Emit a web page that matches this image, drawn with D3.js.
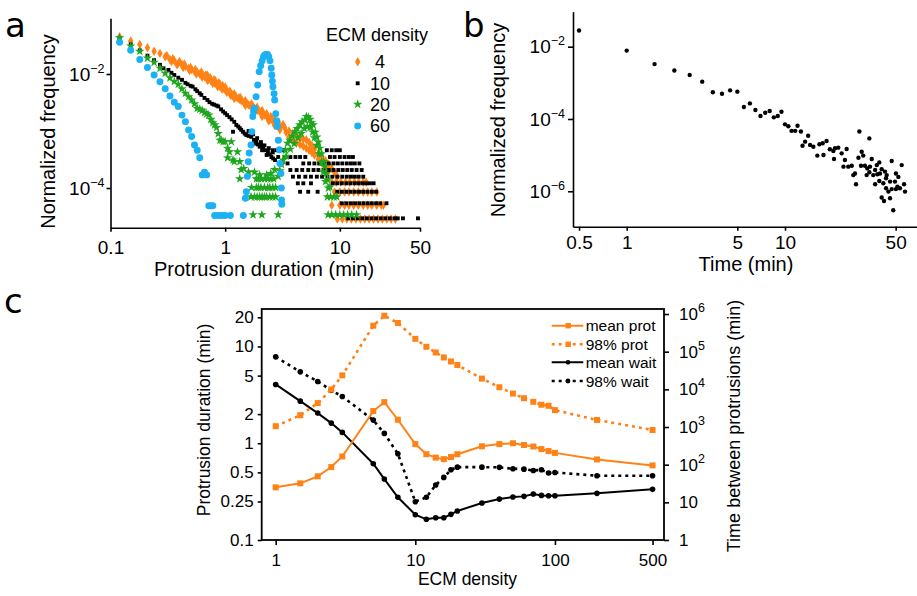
<!DOCTYPE html>
<html>
<head>
<meta charset="utf-8">
<script src="https://cdn.jsdelivr.net/npm/d3@7"></script>
<style>
  body { margin: 0; background: #fff; }
  svg { display: block; font-family: "Liberation Sans", Arial, sans-serif; }
  .axis path, .axis line { stroke: #000; stroke-width: 1.6; }
  .axis text { fill: #000; }
  .panel-letter { font-family: "DejaVu Sans", sans-serif; font-size: 34px; }
</style>
</head>
<body>
<script>
// ---- panel a: protrusion duration histograms, one per ECM density ----
const durationTicks = [0.1, 1, 10, 50];
const freqTicksA = [1e-4, 1e-2];
const densityLabels = [" 4", "10", "20", "60"];

const series4 = [
  [0.12,4.5e-2],[0.15,3.8e-2],[0.18,3.3e-2],[0.21,2.9e-2],[0.24,2.5e-2],[0.27,2.3e-2],[0.30,2.0e-2],
  [0.33,1.8e-2],[0.36,1.7e-2],[0.39,1.55e-2],[0.42,1.45e-2],[0.45,1.35e-2],[0.48,1.25e-2],[0.51,1.2e-2],
  [0.54,1.12e-2],[0.57,1.08e-2],[0.60,1.0e-2],[0.63,9.6e-3],[0.66,9.0e-3],[0.69,8.6e-3],[0.72,8.0e-3],
  [0.75,7.7e-3],[0.78,7.3e-3],[0.81,7.0e-3],[0.84,6.6e-3],[0.87,6.4e-3],[0.90,6.1e-3],[0.93,5.9e-3],
  [0.96,5.6e-3],[1.0,5.3e-3],[1.05,5.0e-3],[1.1,4.6e-3],[1.15,4.3e-3],[1.2,4.1e-3],[1.25,3.9e-3],
  [1.3,3.7e-3],[1.35,3.5e-3],[1.4,3.4e-3],[1.45,3.2e-3],[1.5,3.1e-3],[1.55,3.0e-3],[1.6,2.9e-3],
  [1.65,2.8e-3],[1.7,2.7e-3],[1.75,2.6e-3],[1.8,2.5e-3],[1.9,2.3e-3],[2.0,2.2e-3],[2.1,2.0e-3],
  [2.2,1.9e-3],[2.3,1.8e-3],[2.4,1.7e-3],[2.5,1.6e-3],[2.6,1.5e-3],[2.7,1.4e-3],[2.8,1.3e-3],
  [2.9,1.25e-3],[3.0,1.2e-3],
  [0.31,2.1e-2],[0.35,1.85e-2],[0.4,1.65e-2],[0.44,1.5e-2],[0.5,1.3e-2],[0.55,1.2e-2],[0.62,1.08e-2],
  [0.68,9.6e-3],[0.74,8.6e-3],[0.82,7.6e-3],[0.88,7.0e-3],[0.95,6.3e-3],
  [0.34,1.65e-2],[0.38,1.45e-2],[0.43,1.3e-2],[0.49,1.15e-2],[0.56,1.0e-2],[0.63,8.8e-3],[0.7,7.8e-3],
  [0.78,6.8e-3],[0.86,6.0e-3],[0.94,5.4e-3],[1.03,4.8e-3],[1.12,4.2e-3],
  [0.7,9.5e-3],[0.8,7.9e-3],[0.9,6.6e-3],[1.0,5.9e-3],[1.1,5.0e-3],[1.2,4.5e-3],[1.35,3.9e-3],
  [1.5,3.4e-3],[1.7,3.0e-3],[1.9,2.6e-3],[2.1,2.3e-3],[2.3,2.0e-3],[2.5,1.8e-3],[2.7,1.6e-3],
  [2.9,1.45e-3],[1.2,3.7e-3],[1.5,2.8e-3],[1.8,2.2e-3],[2.1,1.8e-3],[2.4,1.5e-3],[2.7,1.25e-3],
  [3.0,1.05e-3],[3.2,1.3e-3],[3.3,1.15e-3],[3.4,9.5e-4],[3.6,1.0e-3],[3.6,7.8e-4],[3.9,9.0e-4],
  [3.9,6.8e-4],[4.2,8.2e-4],[4.2,6.2e-4],[4.5,7.5e-4],[4.5,5.8e-4],[4.8,7.2e-4],[4.8,5.4e-4],
  [5.1,7.0e-4],[5.1,5.0e-4],[5.4,6.3e-4],[5.4,4.6e-4],[5.7,5.5e-4],[5.7,4.2e-4],[6.0,4.8e-4],
  [6.0,3.8e-4],[6.5,4.0e-4],[6.5,3.2e-4],[7.0,3.5e-4],[7.0,2.7e-4],[7.5,3.0e-4],[7.5,2.3e-4],
  [8.0,2.6e-4],[8.0,2.0e-4],[8.5,2.2e-4],[9.0,1.9e-4],[9.5,1.6e-4]
];
// quantized low-count rows: [frequency, durations]
const rows4 = [
  [1.26e-4, [8.5, 9.3, 10.2, 11.2, 12.2, 13.4, 14.6, 16, 17]],
  [8.5e-5, [9, 10, 11, 12, 13.2, 14.5, 16, 17.5, 19, 21]],
  [5.0e-5, [8.5, 10, 11, 12, 13.2, 14.5, 16, 17.5, 19, 21, 23, 24]],
  [2.86e-5, [9.5, 10.5, 11.5, 12.6, 13.8, 15.1, 16.5, 18, 19.7, 21.5, 23.5, 25.7, 28, 30.5]]
];

const series10 = [
  [0.12,4.2e-2],[0.15,3.3e-2],[0.18,2.6e-2],[0.21,2.1e-2],[0.24,1.75e-2],[0.27,1.45e-2],[0.29,1.26e-2],
  [0.32,1.18e-2],[0.34,1.05e-2],[0.36,9.6e-3],[0.39,8.6e-3],[0.42,7.9e-3],[0.45,7.0e-3],[0.47,6.6e-3],
  [0.5,6.2e-3],[0.52,6.0e-3],[0.55,5.4e-3],[0.57,5.0e-3],[0.6,4.6e-3],[0.62,4.3e-3],[0.66,3.8e-3],
  [0.7,3.5e-3],[0.73,3.2e-3],[0.77,3.0e-3],[0.8,2.9e-3],[0.84,2.8e-3],[0.87,2.7e-3],[0.92,2.4e-3],
  [0.96,2.2e-3],[1.0,2.05e-3],[1.04,1.9e-3],[1.09,1.75e-3],[1.14,1.6e-3],[1.17,9.7e-4],[1.2,1.45e-3],
  [1.25,1.28e-3],[1.3,1.2e-3],[1.34,1.12e-3],[1.38,1.05e-3],[1.43,9.7e-4],[1.48,9.0e-4],[1.53,8.5e-4],
  [1.6,8.2e-4],[1.69,7.9e-4],[1.78,7.0e-4],[1.87,6.5e-4],[1.93,5.8e-4],[2.0,5.3e-4],[2.07,5.6e-4],
  [2.14,5.0e-4],[2.25,4.6e-4],[2.36,4.3e-4],[2.45,3.9e-4],[2.53,3.5e-4],[2.62,3.3e-4],[2.72,3.1e-4],
  [1.6,1.0e-3],[1.75,8.8e-4],[1.9,7.5e-4],[2.05,6.4e-4],[2.2,5.6e-4],[2.4,5.0e-4],[2.6,4.2e-4],
  [1.8,6.0e-4],[2.1,4.6e-4],[2.3,3.8e-4]
];
const rows10 = [
  [4.6e-4, [2.6, 2.8, 3.0, 3.2, 7.7, 8.5, 9.3, 10.0]],
  [3.5e-4, [2.9, 3.3, 3.7, 4.1, 4.5, 5.0, 8.2, 9.0, 10, 11, 12, 13]],
  [2.7e-4, [3.1, 3.5, 4.8, 5.4, 6.0, 6.6, 7.3, 8.0, 8.8, 9.6, 10.5, 11.5, 12.5, 13.5, 14.8]],
  [2.07e-4, [3.7, 4.2, 4.7, 5.3, 5.9, 6.5, 7.2, 8.0, 8.8, 9.7, 10.6, 11.6, 12.7, 14, 15.5]],
  [1.58e-4, [3.9, 4.4, 5.0, 5.6, 6.3, 7.0, 7.8, 8.6, 9.5, 10.5, 11.5, 12.5, 13.5, 14.6, 16]],
  [1.21e-4, [4.3, 4.8, 5.6, 8.7, 9.5, 10.4, 11.4, 12.4, 13.5, 14.6, 15.8, 17, 18.3, 19.7]],
  [8.6e-5, [4.5, 5.3, 6.4, 9.5, 10.4, 11.4, 12.4, 13.5, 14.7, 16, 17.4, 19, 20.7]],
  [5.4e-5, [10.4, 11.4, 12.5, 13.6, 14.8, 16.1, 17.5, 19, 20.7, 22.5, 25.5]],
  [2.94e-5, [11.8, 13, 14.3, 15.7, 17.2, 18.9, 20.7, 22.7, 24.9, 27.3, 30, 32, 35.5, 48]]
];

const series20 = [
  [0.12,4.3e-2],[0.15,3.1e-2],[0.18,2.5e-2],[0.21,1.9e-2],[0.24,1.6e-2],[0.27,1.26e-2],[0.30,1.03e-2],
  [0.33,8.6e-3],[0.36,7.4e-3],[0.39,6.6e-3],[0.42,5.5e-3],[0.45,4.6e-3],[0.48,4.0e-3],[0.51,3.5e-3],
  [0.54,3.0e-3],[0.57,2.5e-3],[0.60,2.4e-3],[0.63,2.3e-3],[0.66,2.1e-3],[0.69,2.0e-3],[0.72,1.9e-3],
  [0.75,1.6e-3],[0.78,1.4e-3],[0.81,1.28e-3],[0.84,1.15e-3],[0.87,9.0e-4],[0.90,6.9e-4],[0.93,6.9e-4],
  [0.96,6.5e-4],[1.0,6.5e-4],[1.05,5.0e-4],[1.09,4.3e-4],[1.13,6.5e-4],[1.17,3.1e-4],[1.05,3.4e-4],
  [1.2,2.9e-4],[1.28,4.3e-4],[1.34,2.9e-4],[1.38,2.1e-4],[1.34,1.45e-4],[1.45,2.2e-4],[1.6,1.9e-4],
  [1.8,1.9e-4],[2.0,1.7e-4],[2.3,1.7e-4],[2.5,1.8e-4],[2.7,2.1e-4],
  [2.9,1.6e-4],[3.0,2.0e-4],[3.1,2.6e-4],[3.2,3.1e-4],[3.35,4.6e-4],[3.5,6.1e-4],[3.66,6.9e-4],
  [3.85,8.2e-4],[4.05,9.7e-4],[4.25,1.1e-3],[4.48,1.28e-3],[4.7,1.45e-3],[4.96,1.56e-3],[5.1,1.8e-3],
  [5.3,1.75e-3],[5.5,1.6e-3],[5.65,1.4e-3],[5.86,1.28e-3],[6.1,9.5e-4],[6.3,7.8e-4],[6.5,6.4e-4],
  [6.7,5.0e-4],[6.9,4.0e-4],[7.2,2.9e-4],[7.4,2.4e-4],[7.6,1.8e-4],[7.8,1.4e-4],[7.95,1.0e-4],
  [8.2,1.04e-4],
  [3.4,3.6e-4],[3.7,4.8e-4],[4.0,6.0e-4],[4.3,7.6e-4],[4.6,9.0e-4],[4.9,1.1e-3],[5.2,1.2e-3],
  [5.5,1.15e-3],[5.8,9.6e-4],[6.0,7.6e-4],[6.3,5.6e-4],[6.6,4.0e-4],[6.9,2.8e-4],[7.2,1.9e-4],
  [7.5,1.3e-4]
];
const rows20 = [
  [1.45e-4, [1.87, 1.95, 2.07, 2.2, 2.36, 2.5, 2.65]],
  [1.02e-4, [1.7, 1.87, 1.95, 2.05, 2.2, 2.35, 2.45, 2.6, 2.75]],
  [7.0e-5, [1.68, 1.8, 1.9, 2.0, 2.1, 2.2, 2.3, 2.45, 2.6, 2.75, 7.8, 8.3, 8.9, 9.4]],
  [3.4e-5, [1.75, 2.09, 2.9, 7.9, 8.5, 9.2, 10, 10.8, 11.7, 12.7, 14]]
];

const series60 = [
  [0.12,3.6e-2],[0.15,2.6e-2],[0.18,1.8e-2],[0.21,1.3e-2],[0.24,9.6e-3],[0.27,7.3e-3],[0.30,5.5e-3],
  [0.33,4.1e-3],[0.36,3.2e-3],[0.39,2.7e-3],[0.42,1.9e-3],[0.45,1.46e-3],[0.48,1.04e-3],[0.51,8.0e-4],
  [0.54,5.7e-4],[0.57,4.6e-4],[0.60,3.4e-4],[0.63,1.7e-4],[0.66,1.9e-4],[0.69,1.7e-4],[0.72,4.9e-5],
  [0.75,4.9e-5],[0.78,4.9e-5],[0.81,3.3e-5],[0.87,3.3e-5],[0.93,3.3e-5],[1.0,3.3e-5],[1.11,3.3e-5],
  [1.44,3.3e-5],[1.5,6.6e-5],[1.53,8.6e-5],[1.56,1.6e-4],[1.59,2.9e-4],[1.62,4.1e-4],[1.68,5.7e-4],
  [1.71,9.7e-4],[1.74,1.8e-3],[1.77,2.2e-3],[1.8,2.5e-3],[1.86,4.0e-3],[1.92,6.4e-3],[1.98,1.1e-2],
  [2.04,1.4e-2],[2.1,1.7e-2],[2.16,2.0e-2],[2.22,2.15e-2],[2.28,2.2e-2],[2.34,2.2e-2],[2.4,2.0e-2],
  [2.46,1.7e-2],[2.52,1.26e-2],[2.55,9.6e-3],[2.58,7.5e-3],[2.61,6.0e-3],[2.67,4.5e-3],[2.7,3.5e-3],
  [2.76,2.0e-3],[2.82,1.5e-3],[2.85,1.2e-3],[2.91,6.9e-4],[2.97,4.7e-4],[3.0,2.7e-4],[3.06,1.8e-4],
  [3.09,1.0e-4],[3.1,6.2e-5],[3.12,5.2e-5]
];

// ---- panel b: waiting time distribution ----
const timeTicks = [0.5, 1, 5, 10, 50];
const freqTicksB = [1e-6, 1e-4, 1e-2];
const waitTimes = [
  [0.5,2.8e-2],[1,7.8e-3],[1.5,3.3e-3],[2,2.2e-3],[2.5,1.65e-3],[3,1.08e-3],[3.5,5.5e-4],[4,5.0e-4],
  [4.5,6.2e-4],[5,5.7e-4],[5.5,2.15e-4],[6,2.7e-4],[6.5,1.77e-4],[7,1.21e-4],[7.5,1.49e-4],[8,1.66e-4],
  [8.5,1.11e-4],[9,1.21e-4],[9.5,1.59e-4],[10,7.1e-5],[10.5,6.3e-5],[11,4.7e-5],[11.6,4.7e-5],
  [12,6.5e-5],[12.6,4.5e-5],[13.4,2.36e-5],[12.9,1.82e-5],[14,3.45e-5],[14.4,1.91e-5],[15.1,1.71e-5],
  [16.5,2.0e-5],[17.3,2.13e-5],[18.3,2.46e-5],[16,9.7e-6],[17.5,1.01e-5],[19.2,1.45e-5],[20.2,1.3e-5],
  [20.7,1.55e-5],[21.7,1.61e-5],[20.4,7.8e-6],[22.8,1.12e-5],[24.5,1.48e-5],[23.9,7.3e-6],[23.4,4.8e-6],
  [25.1,4.8e-6],[26.4,5.1e-6],[29.5,4.5e-5],[34.1,2.9e-5],[30.5,1.24e-5],[29.1,8.5e-6],[31.2,9.7e-6],
  [27,2.8e-6],[27.7,3.1e-6],[28.1,1.56e-6],[30.2,5.1e-6],[32,5.1e-6],[33.1,4.3e-6],[34.4,4.8e-6],
  [35.3,7.8e-6],[32.8,2.8e-6],[34.1,3.35e-6],[36.1,2.8e-6],[37.1,3.9e-6],[38,5.3e-6],[39.4,6.3e-6],
  [38.3,2.95e-6],[39.8,3.1e-6],[37.1,1.56e-6],[39.4,1.93e-6],[40.8,4.1e-6],[42.8,3.5e-6],[43.9,2.8e-6],
  [47.2,6.9e-6],[43.5,2.3e-6],[46.1,1.85e-6],[50.2,3.1e-6],[52,2.5e-6],[49.5,1.85e-6],[51.3,1.34e-6],
  [54.6,5.3e-6],[56.5,1.56e-6],[53.2,1.21e-6],[57.3,9.8e-7],[41.8,1.66e-6],[43.5,1.21e-6],[45,9.8e-7],
  [40.8,6.7e-7],[42.2,5.4e-7],[46.1,6.4e-7],[48.3,3.0e-7],[47.2,1.15e-6],[50.2,1.15e-6]
];

// ---- panel c: summary vs ECM density ----
const ecmDensity = [1, 1.5, 2, 2.5, 3, 5, 6, 7.5, 10, 12, 14, 16, 18, 20, 30, 40, 50, 60, 70, 80, 90, 100, 200, 500];
const meanProt = [0.35, 0.385, 0.455, 0.567, 0.73, 2.15, 2.66, 1.75, 0.98, 0.77, 0.71, 0.685, 0.72, 0.77,
  0.93, 0.98, 1.0, 0.96, 0.925, 0.87, 0.83, 0.795, 0.68, 0.59];
const prot98 = [1.5, 1.95, 2.6, 3.59, 5.03, 16.4, 20.8, 17.5, 12.0, 9.93, 8.67, 7.7, 7.0, 6.44,
  4.66, 3.79, 3.26, 2.92, 2.68, 2.5, 2.44, 2.2, 1.74, 1.37];
const meanWait = [13500, 4860, 2340, 1270, 719, 106, 41.5, 13.6, 4.7, 3.54, 3.9, 3.9, 4.8, 5.9,
  9.6, 12.2, 13.8, 14.4, 16.6, 15.3, 15.0, 15.0, 17.3, 22.1];
const wait98 = [72900, 29200, 16200, 9500, 6460, 1525, 676, 195, 10.4, 13.6, 28.8, 46, 73, 86,
  86, 85, 78, 76, 70, 73, 60, 62, 51, 51];
const protTicks = [0.1, 0.25, 0.5, 1, 2, 5, 10, 20];
const waitTicks = [1, 10, 1e2, 1e3, 1e4, 1e5, 1e6];
const ecmTicks = [1, 10, 100, 500];
const legendC = ["mean prot", "98% prot", "mean wait", "98% wait"];

const ORANGE = "#ff8216", GREEN = "#1fa61f", BLUE = "#1bb1f2";

const svg = d3.select("body").append("svg").attr("width", 917).attr("height", 596);

function flattenRows(rows) {
  return rows.flatMap(([y, xs]) => xs.map(x => [x, y]));
}

function styleAxis(g, size) {
  g.attr("class", "axis").attr("font-family", null).attr("font-size", size);
}

// 10^n labels with a raised exponent
function powerLabels(g) {
  g.selectAll(".tick text").each(function(d) {
    const e = Math.round(Math.log10(d));
    const t = d3.select(this).text(null);
    if (e === 0) { t.text("1"); return; }
    if (e === 1) { t.text("10"); return; }
    t.append("tspan").text("10");
    t.append("tspan").attr("dy", -8).attr("font-size", 12.5)
      .text(e < 0 ? "\u2212" + (-e) : String(e));
  });
}

function drawSymbols(g, data, x, y, type, size, color) {
  g.selectAll(null).data(data).join("path")
    .attr("transform", d => `translate(${x(d[0])},${y(d[1])})`)
    .attr("d", d3.symbol(type, size))
    .attr("fill", color);
}

// ================= panel a =================
const xA = d3.scaleLog().domain([0.1, 50]).range([110.5, 420]);
const yA = d3.scaleLog().domain([10 ** -4.696, 10 ** -1.023]).range([227.7, 18.3]);
const gA = svg.append("g");

const markA = [
  { data: series4.concat(flattenRows(rows4)), type: d3.symbolDiamond, size: 26, color: ORANGE },
  { data: series10.concat(flattenRows(rows10)), type: d3.symbolSquare, size: 15, color: "#000" },
  { data: series20.concat(flattenRows(rows20)), type: d3.symbolStar, size: 28, color: GREEN },
  { data: series60, type: d3.symbolCircle, size: 38, color: BLUE }
];
markA.forEach(m => drawSymbols(gA.append("g"), m.data, xA, yA, m.type, m.size, m.color));

gA.append("g").attr("transform", "translate(0,227.7)")
  .call(d3.axisBottom(xA).tickValues(durationTicks).tickFormat(d3.format("~g"))
    .tickSize(4).tickPadding(9).tickSizeOuter(0))
  .call(g => styleAxis(g, 19));
gA.append("g").attr("transform", "translate(110.5,0)")
  .call(d3.axisLeft(yA).tickValues(freqTicksA).tickSize(4).tickPadding(2).tickSizeOuter(0))
  .call(g => styleAxis(g, 19))
  .call(powerLabels);

gA.append("text").attr("x", 264).attr("y", 276).attr("text-anchor", "middle")
  .attr("font-size", 20).text("Protrusion duration (min)");
gA.append("text").attr("transform", "translate(54.5,131.5) rotate(-90)").attr("text-anchor", "middle")
  .attr("font-size", 20).text("Normalized frequency");

// legend
const legA = gA.append("g").attr("font-size", 18);
legA.append("text").attr("x", 326).attr("y", 41).text("ECM density");
const legRowsA = [61.7, 83.3, 104.3, 126];
markA.forEach((m, i) => {
  legA.append("path").attr("transform", `translate(357.7,${legRowsA[i]})`)
    .attr("d", d3.symbol(m.type, m.size)).attr("fill", m.color);
  legA.append("text").attr("x", 370).attr("y", legRowsA[i]).attr("dy", "0.36em")
    .style("white-space", "pre").text(densityLabels[i]);
});

// ================= panel b =================
const xB = d3.scaleLog().domain([0.458, 68.2]).range([573, 917]);
const yB = d3.scaleLog().domain([10 ** -6.98, 10 ** -1.032]).range([226.7, 11.7]);
const gB = svg.append("g");

gB.append("g").selectAll("circle").data(waitTimes).join("circle")
  .attr("cx", d => xB(d[0])).attr("cy", d => yB(d[1])).attr("r", 2.2).attr("fill", "#000");

gB.append("g").attr("transform", "translate(0,226.7)")
  .call(d3.axisBottom(xB).tickValues(timeTicks).tickFormat(d3.format("~g"))
    .tickSize(4).tickPadding(5).tickSizeOuter(0))
  .call(g => styleAxis(g, 19));
gB.append("g").attr("transform", "translate(573,0)")
  .call(d3.axisLeft(yB).tickValues(freqTicksB).tickSize(5).tickPadding(3).tickSizeOuter(0))
  .call(g => styleAxis(g, 19))
  .call(powerLabels);

gB.append("text").attr("x", 746).attr("y", 271).attr("text-anchor", "middle")
  .attr("font-size", 20).text("Time (min)");
gB.append("text").attr("transform", "translate(504.5,120) rotate(-90)").attr("text-anchor", "middle")
  .attr("font-size", 20).text("Normalized frequency");

// ================= panel c =================
const xC = d3.scaleLog().domain([0.794, 604]).range([261.7, 664]);
const yL = d3.scaleLog().domain([0.1, 24.4]).range([540, 309]);
const yR = d3.scaleLog().domain([1, 1.36e6]).range([540, 309]);
const gC = svg.append("g");

const linesC = [
  { values: meanWait, y: yR, color: "#000", dash: null, marker: "circle" },
  { values: wait98, y: yR, color: "#000", dash: "3,4", marker: "circle" },
  { values: meanProt, y: yL, color: ORANGE, dash: null, marker: "square" },
  { values: prot98, y: yL, color: ORANGE, dash: "3,4", marker: "square" }
];

linesC.forEach(s => {
  const pts = ecmDensity.map((e, i) => [e, s.values[i]]);
  gC.append("path").datum(pts)
    .attr("fill", "none").attr("stroke", s.color)
    .attr("stroke-width", s.dash ? 2.6 : 2)
    .attr("stroke-dasharray", s.dash)
    .attr("d", d3.line().x(d => xC(d[0])).y(d => s.y(d[1])));
  if (s.marker === "circle") {
    gC.append("g").selectAll("circle").data(pts).join("circle")
      .attr("cx", d => xC(d[0])).attr("cy", d => s.y(d[1])).attr("r", 2.8).attr("fill", s.color);
  } else {
    gC.append("g").selectAll("rect").data(pts).join("rect")
      .attr("x", d => xC(d[0]) - 3).attr("y", d => s.y(d[1]) - 3)
      .attr("width", 6).attr("height", 6).attr("fill", s.color);
  }
});

gC.append("rect").attr("x", 261.7).attr("y", 309).attr("width", 664 - 261.7).attr("height", 540 - 309)
  .attr("fill", "none").attr("stroke", "#000").attr("stroke-width", 1.8);

gC.append("g").attr("transform", "translate(0,540)")
  .call(d3.axisBottom(xC).tickValues(ecmTicks).tickFormat(d3.format("~g"))
    .tickSize(5).tickPadding(9).tickSizeOuter(0))
  .call(g => styleAxis(g, 17))
  .call(g => g.select(".domain").remove());
gC.append("g").attr("transform", "translate(261.7,0)")
  .call(d3.axisLeft(yL).tickValues(protTicks).tickFormat(d3.format("~g"))
    .tickSize(4).tickPadding(4).tickSizeOuter(0))
  .call(g => styleAxis(g, 17))
  .call(g => g.select(".domain").remove());
gC.append("g").attr("transform", "translate(664,0)")
  .call(d3.axisRight(yR).tickValues(waitTicks).tickSize(5).tickPadding(10).tickSizeOuter(0))
  .call(g => styleAxis(g, 17))
  .call(g => g.select(".domain").remove())
  .call(powerLabels);

gC.append("text").attr("x", 467.5).attr("y", 585).attr("text-anchor", "middle")
  .attr("font-size", 17.5).text("ECM density");
gC.append("text").attr("transform", "translate(209.5,420) rotate(-90)").attr("text-anchor", "middle")
  .attr("font-size", 17.5).text("Protrusion duration (min)");
gC.append("text").attr("transform", "translate(740,426) rotate(-90)").attr("text-anchor", "middle")
  .attr("font-size", 18).text("Time between protrusions (min)");

// legend (same order as the original: orange first)
const legC = gC.append("g").attr("font-size", 15.5);
const legRowsC = [325.7, 344.3, 362.3, 381];
[linesC[2], linesC[3], linesC[0], linesC[1]].forEach((s, i) => {
  const y = legRowsC[i];
  legC.append("line").attr("x1", 551.7).attr("x2", 583.3).attr("y1", y).attr("y2", y)
    .attr("stroke", s.color).attr("stroke-width", s.dash ? 2.6 : 2).attr("stroke-dasharray", s.dash);
  if (s.marker === "circle") {
    legC.append("circle").attr("cx", 568).attr("cy", y).attr("r", 2.4).attr("fill", s.color);
  } else {
    legC.append("rect").attr("x", 565.5).attr("y", y - 2.7).attr("width", 5.4).attr("height", 5.4).attr("fill", s.color);
  }
  legC.append("text").attr("x", 585.7).attr("y", y).attr("dy", "0.36em").text(legendC[i]);
});

// panel letters
svg.append("text").attr("class", "panel-letter").attr("x", 5).attr("y", 36.5).text("a");
svg.append("text").attr("class", "panel-letter").attr("x", 463).attr("y", 36.5).text("b");
svg.append("text").attr("class", "panel-letter").attr("x", 4).attr("y", 313).text("c");
</script>
</body>
</html>
